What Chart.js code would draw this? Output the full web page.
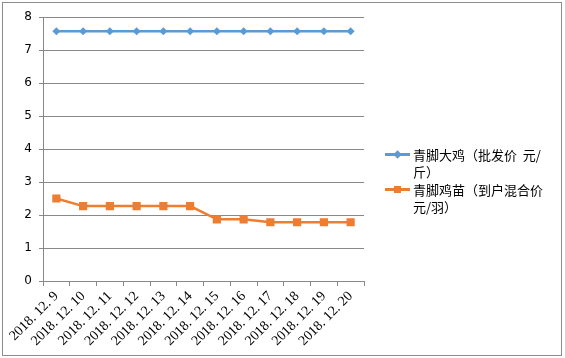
<!DOCTYPE html>
<html>
<head>
<meta charset="utf-8">
<script src="https://cdn.jsdelivr.net/npm/chart.js@4"></script>
<style>
html,body{margin:0;padding:0;background:#fff;}
#wrap{position:absolute;left:0;top:0;width:565px;height:358px;}
#frame{position:absolute;left:2px;top:2px;width:558px;height:352px;border:1px solid #8c8c8c;pointer-events:none;}
#legend{position:absolute;left:385px;top:146px;font-family:"Noto Sans CJK SC",sans-serif;font-size:13px;line-height:17px;color:#000;white-space:pre;}
.item{position:relative;padding-left:28px;width:135px;margin-bottom:1px;}
.mk{position:absolute;left:0;top:8px;width:25px;height:0;}
.mk .ln{position:absolute;left:0;top:-1px;width:25px;height:2.5px;}
.mk .pt{position:absolute;left:9px;top:-3px;width:7px;height:7px;}
</style>
</head>
<body>
<div id="wrap"><canvas id="c" width="565" height="358"></canvas></div>
<div id="frame"></div>
<div id="legend"></div>
<script>
const categories = ["2018. 12. 9","2018. 12. 10","2018. 12. 11","2018. 12. 12","2018. 12. 13","2018. 12. 14","2018. 12. 15","2018. 12. 16","2018. 12. 17","2018. 12. 18","2018. 12. 19","2018. 12. 20"];
const seriesNames = ["青脚大鸡（批发价  元/斤）","青脚鸡苗（到户混合价元/羽）"];
const legendLines = [["青脚大鸡（批发价  元/","斤）"],["青脚鸡苗（到户混合价","元/羽）"]];
const broilerPrice = [7.57,7.57,7.57,7.57,7.57,7.57,7.57,7.57,7.57,7.57,7.57,7.57];
const chickPrice = [2.5,2.27,2.27,2.27,2.27,2.27,1.87,1.87,1.78,1.78,1.78,1.78];
const yTicks = [0,1,2,3,4,5,6,7,8];
const colors = ["#5b9bd5","#ed7d31"];

const ctx = document.getElementById('c');
new Chart(ctx,{
  type:'line',
  data:{
    labels:categories,
    datasets:[
      {label:seriesNames[0],data:broilerPrice,borderColor:colors[0],backgroundColor:colors[0],borderWidth:2.5,pointStyle:'rectRot',pointRadius:4,pointBorderWidth:0,tension:0},
      {label:seriesNames[1],data:chickPrice,borderColor:colors[1],backgroundColor:colors[1],borderWidth:2.5,pointStyle:'rect',pointRadius:5.8,pointBorderWidth:0,tension:0}
    ]
  },
  options:{
    responsive:false,
    animation:false,
    layout:{padding:{left:0,top:17,right:201,bottom:0}},
    plugins:{legend:{display:false},tooltip:{enabled:false}},
    scales:{
      x:{
        offset:true,
        grid:{display:true,drawOnChartArea:false,offset:true,tickLength:5,color:'#888'},
        border:{color:'#888',width:1},
        ticks:{maxRotation:45,minRotation:45,autoSkip:false,color:'#000',font:{family:'"Liberation Serif", serif',size:14},padding:2},
        afterFit:(s)=>{s.height=77;}
      },
      y:{
        min:0,max:8,
        afterBuildTicks:(s)=>{s.ticks=yTicks.map(v=>({value:v}));},
        grid:{color:'#888',tickLength:4},
        border:{color:'#888',width:1},
        ticks:{color:'#000',font:{family:'"DejaVu Sans", sans-serif',size:12},padding:7},
        afterFit:(s)=>{s.width=43;}
      }
    }
  }
});

const lg=document.getElementById('legend');
legendLines.forEach((lines,i)=>{
  const it=document.createElement('div');it.className='item';
  const mk=document.createElement('div');mk.className='mk';
  const ln=document.createElement('div');ln.className='ln';ln.style.background=colors[i];
  const pt=document.createElement('div');pt.className='pt';pt.style.background=colors[i];
  if(i===0){pt.style.transform='rotate(45deg) scale(0.85)';}
  mk.appendChild(ln);mk.appendChild(pt);it.appendChild(mk);
  lines.forEach(t=>{const d=document.createElement('div');d.textContent=t;it.appendChild(d);});
  lg.appendChild(it);
});
</script>
</body>
</html>
